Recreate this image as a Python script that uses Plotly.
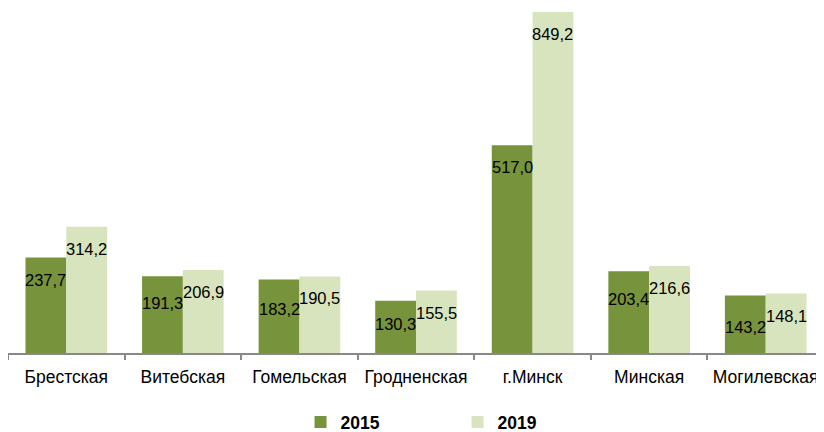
import plotly.graph_objects as go

categories = ["Брестская", "Витебская", "Гомельская", "Гродненская", "г.Минск", "Минская", "Могилевская"]
series_names = ["2015", "2019"]
values_2015 = [237.7, 191.3, 183.2, 130.3, 517.0, 203.4, 143.2]
values_2019 = [314.2, 206.9, 190.5, 155.5, 849.2, 216.6, 148.1]
colors = ["#77933C", "#D7E4BD"]

W, H = 816, 445
M_T, M_B, M_L, M_R = 0, 100, 0, 0
Y_MAX = 859
BARGAP = 0.3
PLOT_H = H - M_T - M_B
px_per_unit = PLOT_H / Y_MAX
FONT = "Liberation Sans, Arial, sans-serif"

fig = go.Figure()
for name, vals, col in zip(series_names, [values_2015, values_2019], colors):
    fig.add_trace(go.Bar(x=categories, y=vals, name=name, marker=dict(color=col, line=dict(width=0))))

def fmt(v):
    return f"{v:.1f}".replace(".", ",")

base_shift = 22
min_sep = 11
off = (1 - BARGAP) / 4
for i, (a, b) in enumerate(zip(values_2015, values_2019)):
    pa = a * px_per_unit - base_shift
    pb = b * px_per_unit - base_shift
    sa = base_shift
    if pa <= pb and (pb - pa) < min_sep:
        sa = base_shift + (min_sep - (pb - pa))
    fig.add_annotation(x=i - off, y=a, xref="x", yref="y", text=fmt(a), showarrow=False,
                       yshift=-sa, font=dict(family=FONT, size=16.5, color="#000"))
    fig.add_annotation(x=i + off, y=b, xref="x", yref="y", text=fmt(b), showarrow=False,
                       yshift=-base_shift, font=dict(family=FONT, size=16.5, color="#000"))

fig.update_layout(
    width=W, height=H, autosize=False,
    margin=dict(t=M_T, b=M_B, l=M_L, r=M_R),
    paper_bgcolor="white", plot_bgcolor="white",
    barmode="group", bargap=BARGAP, bargroupgap=0,
    font=dict(family=FONT, color="#000"),
    showlegend=True,
    legend=dict(orientation="h", x=0.3585, xanchor="left", y=-51 / PLOT_H, yanchor="top",
                font=dict(size=17.5, family=FONT, color="#000", weight="bold"),
                entrywidth=112, entrywidthmode="pixels", itemwidth=30),
    xaxis=dict(showline=True, linecolor="#888888", linewidth=1.5, ticks="outside", tickson="boundaries",
               ticklen=5, tickcolor="#888888", tickwidth=1.5, showgrid=False,
               tickfont=dict(size=17.5, family=FONT, color="#000"),
               ticklabelstandoff=7),
    yaxis=dict(range=[0, Y_MAX], visible=False, showgrid=False, zeroline=False),
)

fig.write_html("out.html")
